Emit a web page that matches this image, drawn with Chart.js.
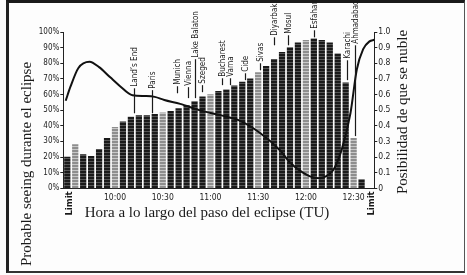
<!DOCTYPE html>
<html><head><meta charset="utf-8">
<script src="https://cdn.jsdelivr.net/npm/chart.js@4/dist/chart.umd.min.js"></script>
<style>
html,body{margin:0;padding:0;background:#fff;}
#wrap{position:relative;width:467px;height:275px;overflow:hidden;background:#fdfdfd;}
#frame{position:absolute;left:6px;top:0;width:459px;height:273px;border-top:3px solid #1a1a1a;border-left:3px solid #222;border-right:1px solid #555;border-bottom:2px solid #333;box-sizing:border-box;}
canvas{position:absolute;left:0;top:0;}
</style></head>
<body><div id="wrap"><div id="frame"></div><canvas id="c" width="467" height="275"></canvas></div>
<script>
// ---- data ----
const barTimes = ['9:30','9:35','9:40','9:45','9:50','9:55','10:00','10:05','10:10','10:15','10:20','10:25','10:30','10:35','10:40','10:45','10:50','10:55','11:00','11:05','11:10','11:15','11:20','11:25','11:30','11:35','11:40','11:45','11:50','11:55','12:00','12:05','12:10','12:15','12:20','12:25','12:30','12:35'];
const seeingValues = [20,28,21.5,20.5,25,32,39,42.5,45.5,46.5,46.5,47.3,48.3,49.3,51,53,55.5,58.5,60,62,63,65.5,68,70,74,78,82.5,87,90,93,94.7,95.7,94.7,93,86,67.5,32,5.5];
const greyBars = [1,6,12,18,24,30,36];

const lineTimes = ['9:29','9:32','9:37','9:44','9:50','9:57','10:03','10:11','10:19','10:25','10:31','10:41','10:53','11:06','11:19','11:31','11:44','11:50','11:56','12:03','12:09','12:14','12:18','12:23','12:28','12:32','12:36','12:40','12:43'];
const cloudValues = [0.56,0.65,0.77,0.81,0.775,0.71,0.655,0.595,0.59,0.585,0.565,0.54,0.50,0.468,0.43,0.355,0.24,0.165,0.115,0.075,0.065,0.085,0.13,0.265,0.48,0.76,0.89,0.94,0.95];

const xTickTimes = ['9:30','10:00','10:30','11:00','11:30','12:00','12:30','12:40'];
const xTickLabels = ['Limit','10:00','10:30','11:00','11:30','12:00','12:30','Limit'];

const cityNames = ['Land\u2019s End','Paris','Munich','Vienna','Lake Balaton','Szeged','Bucharest','Varna','Cide','Sivas','Diyarbakir','Mosul','Esfahan','Karachi','Ahmadabad'];
const cityTimes = ['10:12','10:23','10:39','10:46','10:50','10:55','11:07','11:12','11:22','11:31','11:40','11:49','12:05','12:26','12:31'];
// label leader line ends, in left-axis (%) units
const cityLineLow  = [48,48,60.8,57.7,57.7,61.5,66,66,69.2,75.5,91.5,91.5,96.6,69.2,33.4];
const cityLineHigh = [64,62.8,65.3,64.7,82.6,66,70.4,70.4,73.6,80,96.6,97.9,101.1,81.9,91.5];

const xTitle = 'Hora a lo largo del paso del eclipse (TU)';
const yTitle = 'Probable seeing durante el eclipse';
const y2Title = 'Posibilidad de que se nuble';

// ---- helpers ----
const toMin = s => { const p = s.split(':').map(Number); return p[0]*60 + p[1]; };
function stripe(base, line){
  const c = document.createElement('canvas'); c.width = 2; c.height = 3;
  const g = c.getContext('2d');
  g.fillStyle = base; g.fillRect(0,0,2,3);
  g.fillStyle = line; g.fillRect(0,2,2,1);
  return g.createPattern(c,'repeat');
}
const darkFill = stripe('#1a1a1a','#555555');
const greyFill = stripe('#8e8e8e','#c8c8c8');
const NARROW = '"Liberation Sans Narrow","DejaVu Sans Condensed","Arial Narrow",sans-serif';
const SERIF = '"Liberation Serif","DejaVu Serif",serif';

const labelPlugin = {
  id: 'labels',
  afterDraw(chart){
    const ctx = chart.ctx, xs = chart.scales.x, ys = chart.scales.y;
    ctx.save();
    ctx.fillStyle = '#1a1a1a'; ctx.strokeStyle = '#1a1a1a';
    // city labels
    ctx.font = '8px ' + NARROW;
    ctx.lineWidth = 1.2;
    cityNames.forEach((name, i) => {
      const x = Math.round(xs.getPixelForValue(toMin(cityTimes[i]))) + 0.5;
      const yl = ys.getPixelForValue(cityLineLow[i]);
      const yh = ys.getPixelForValue(cityLineHigh[i]);
      ctx.beginPath(); ctx.moveTo(x, yl); ctx.lineTo(x, yh); ctx.stroke();
      ctx.save(); ctx.translate(x + 0.5, yh - 1.5); ctx.rotate(-Math.PI/2);
      ctx.textAlign = 'left'; ctx.textBaseline = 'middle';
      ctx.fillText(name, 0, 0); ctx.restore();
    });
    // Limit tick labels
    ctx.font = 'bold 9.5px ' + NARROW;
    xTickLabels.forEach((lab, i) => {
      if (lab !== 'Limit') return;
      const x = xs.getPixelForValue(toMin(xTickTimes[i])) + 2;
      ctx.save(); ctx.translate(x, xs.top + 3); ctx.rotate(-Math.PI/2);
      ctx.textAlign = 'right'; ctx.textBaseline = 'middle';
      ctx.fillText(lab, 0, 0); ctx.restore();
    });
    // axis titles
    ctx.font = '15px ' + SERIF;
    ctx.textAlign = 'center'; ctx.textBaseline = 'middle';
    ctx.fillText(xTitle, 207, 213);
    ctx.save(); ctx.translate(27, 164); ctx.rotate(-Math.PI/2); ctx.fillText(yTitle, 0, 0); ctx.restore();
    ctx.save(); ctx.translate(403, 112); ctx.rotate(-Math.PI/2); ctx.fillText(y2Title, 0, 0); ctx.restore();
    ctx.restore();
  }
};

new Chart(document.getElementById('c'), {
  data: {
    datasets: [
      {
        type: 'line', label: y2Title, yAxisID: 'y2', order: 0,
        data: lineTimes.map((t, i) => ({x: toMin(t), y: cloudValues[i]})),
        borderColor: '#111', borderWidth: 2, pointRadius: 0,
        cubicInterpolationMode: 'monotone', fill: false
      },
      {
        type: 'bar', label: yTitle, yAxisID: 'y', order: 1,
        data: barTimes.map((t, i) => ({x: toMin(t), y: seeingValues[i]})),
        backgroundColor: seeingValues.map((v, i) => greyBars.includes(i) ? greyFill : darkFill),
        barThickness: 5.6, borderWidth: 0
      }
    ]
  },
  options: {
    responsive: false, animation: false,
    layout: { padding: { top: 32, left: 0, right: 0, bottom: 0 } },
    plugins: { legend: { display: false }, tooltip: { enabled: false } },
    scales: {
      x: {
        type: 'linear', min: 567.5, max: 763, offset: false,
        afterBuildTicks: s => { s.ticks = xTickTimes.map(t => ({ value: toMin(t) })); },
        afterFit: s => { s.height = 86.7; },
        ticks: {
          autoSkip: false, maxRotation: 0, padding: 4, color: '#222',
          font: { family: NARROW, size: 8.5 },
          callback: (v, i) => xTickLabels[i] === 'Limit' ? '' : xTickLabels[i]
        },
        grid: { drawOnChartArea: false, drawTicks: false, offset: false },
        border: { display: true, color: '#222', width: 1 }
      },
      y: {
        position: 'left', min: 0, max: 100,
        afterFit: s => { s.width = 63.3; },
        ticks: { stepSize: 10, padding: 1, color: '#222', font: { family: NARROW, size: 8 }, callback: v => v + '%' },
        grid: { drawOnChartArea: false, tickLength: 3, color: '#222' },
        border: { display: true, color: '#222', width: 1 }
      },
      y2: {
        position: 'right', min: 0, max: 1,
        afterFit: s => { s.width = 92.7; },
        ticks: { stepSize: 0.1, padding: 1, color: '#222', font: { family: NARROW, size: 8.5 }, callback: v => v === 0 ? '0' : v.toFixed(1) },
        grid: { drawOnChartArea: false, tickLength: 3, color: '#222' },
        border: { display: true, color: '#222', width: 1 }
      }
    }
  },
  plugins: [labelPlugin]
});
</script>
</body></html>
